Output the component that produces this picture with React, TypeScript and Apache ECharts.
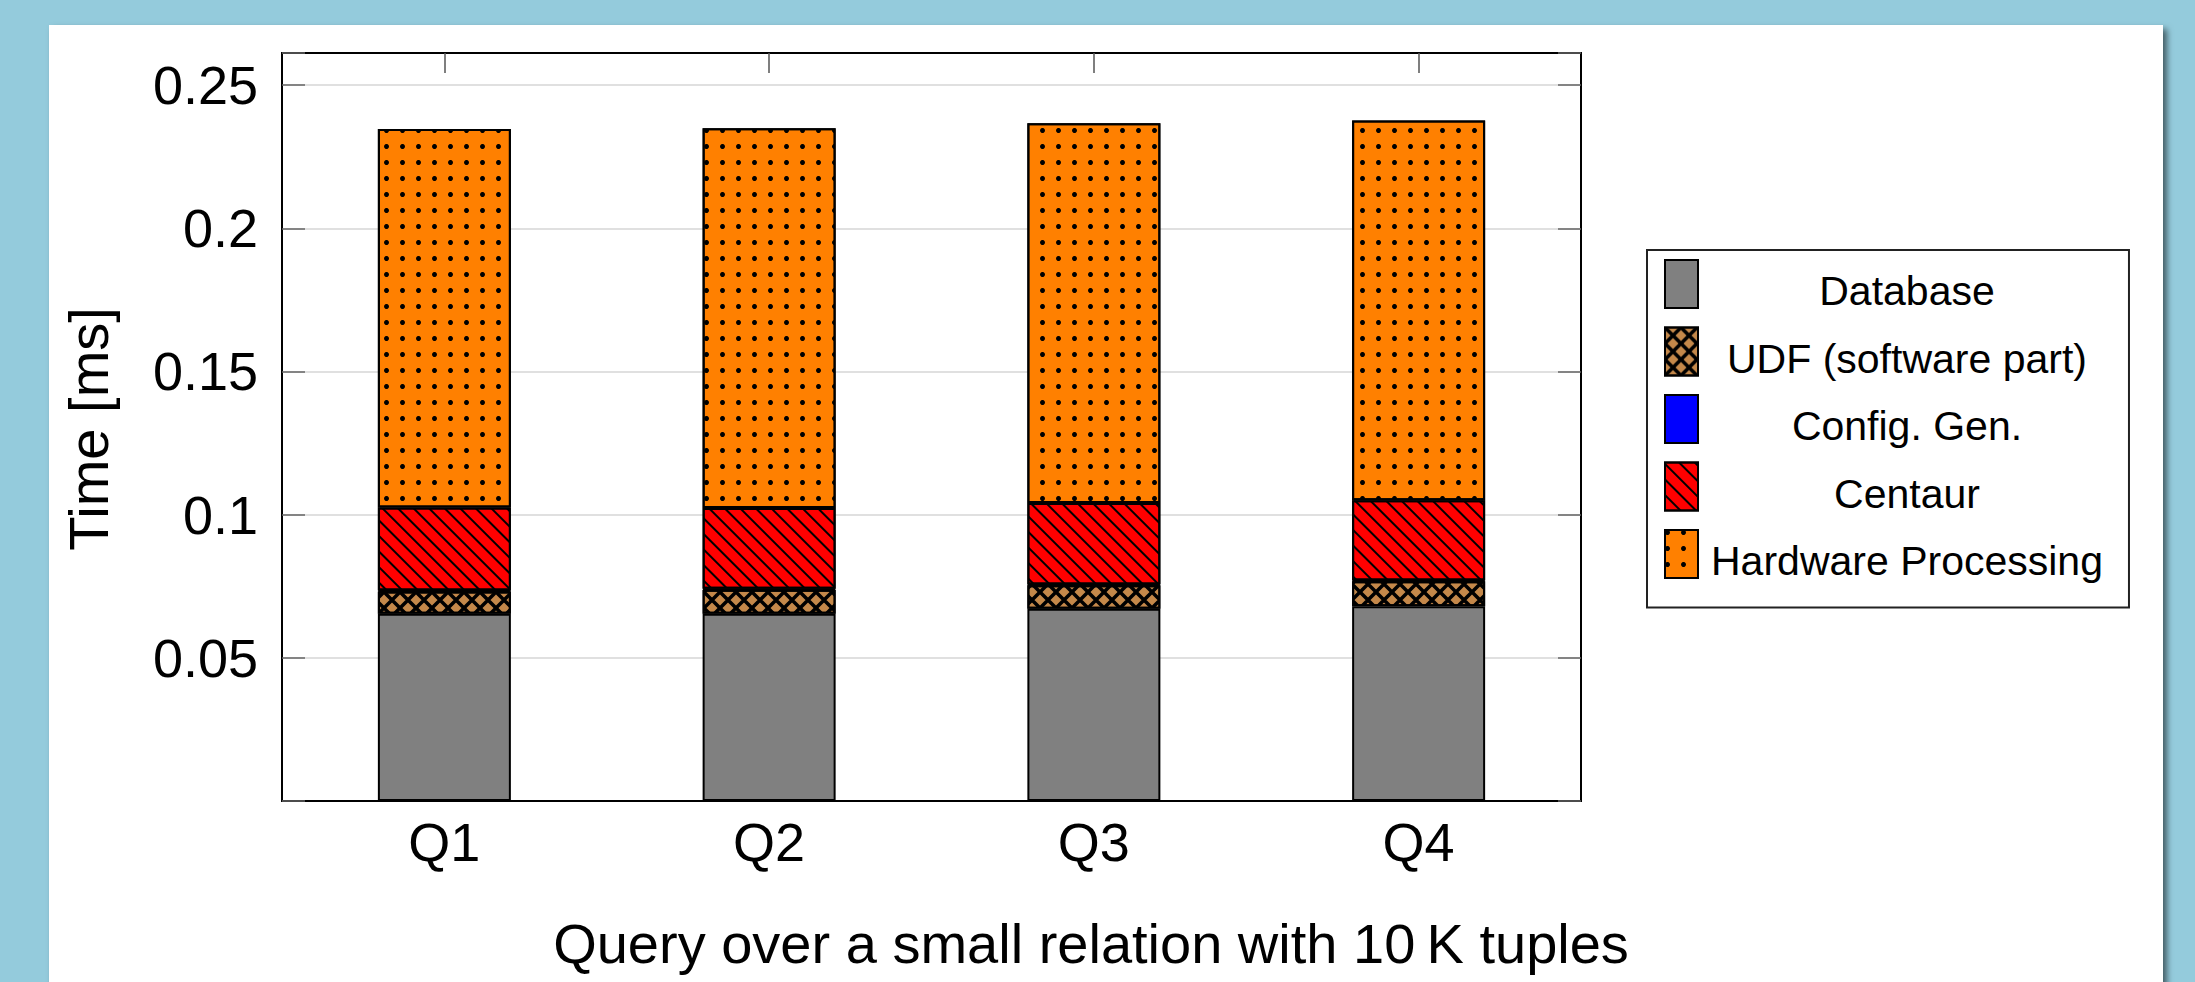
import React, { useEffect, useRef } from "react";
import * as echarts from "echarts";

const categories = ["Q1", "Q2", "Q3", "Q4"];
const seriesNames = ["Database", "UDF (software part)", "Config. Gen.", "Centaur", "Hardware Processing"];
const database = [0.0654, 0.0654, 0.0671, 0.068];
const udf = [0.0078, 0.0084, 0.0082, 0.0087];
const configGen = [0.0003, 0.0003, 0.0003, 0.0003];
const centaur = [0.029, 0.0282, 0.0285, 0.028];
const hardware = [0.1322, 0.1326, 0.1326, 0.1326];
const yTicks = [0.05, 0.1, 0.15, 0.2, 0.25];
const yMax = 0.2612;
const xTitle = "Query over a small relation with 10\u2009K tuples";
const yTitle = "Time [ms]";

const FONT = "Liberation Sans";

export default function App() {
  const ref = useRef<HTMLDivElement>(null);
  useEffect(() => {
    if (!ref.current) return;
    const chart = echarts.init(ref.current, undefined, { renderer: "svg" });

    const bar = (name: string, data: number[], color: string, decal?: any) => ({
      name,
      type: "bar",
      stack: "total",
      data,
      barWidth: 133,
      xAxisIndex: 0,
      yAxisIndex: 0,
      itemStyle: { color, borderColor: "#000", borderWidth: 2, decal },
      emphasis: { disabled: true },
    });

    const crossDecal = {
      symbol: "path://M0 0L5 0L32 27L32 32L27 32L0 5Z M32 0L32 5L5 32L0 32L0 27L27 0Z",
      symbolSize: 1,
      symbolKeepAspect: false,
      color: "#000",
      dashArrayX: [16, 0],
      dashArrayY: [16, 0],
      rotation: 0,
    };
    const lineDecal = {
      symbol: "rect",
      symbolSize: 1,
      color: "#000",
      dashArrayX: [1, 0],
      dashArrayY: [2, 9],
      rotation: Math.PI / 4,
    };
    const dotDecal = {
      symbol: "circle",
      symbolSize: 1,
      color: "#000",
      dashArrayX: [5, 11],
      dashArrayY: [5, 11],
      rotation: 0,
    };

    const yLabelFmt = (v: number) => {
      const t = yTicks.find((k) => Math.abs(k - v) < 1e-9);
      return t === undefined ? "" : String(t);
    };

    chart.setOption({
      animation: false,
      backgroundColor: "#94cbdc",
      grid: {
        left: 282,
        top: 53,
        width: 1299,
        height: 748,
        show: true,
        borderColor: "#000",
        borderWidth: 2,
        backgroundColor: "transparent",
        containLabel: false,
        outerBoundsMode: "none",
      },
      legend: {
        orient: "vertical",
        left: 1647,
        top: 250,
        data: seriesNames,
        icon: "rect",
        itemWidth: 33,
        itemHeight: 48,
        itemGap: 15,
        padding: [9, 26, 26, 17],
        backgroundColor: "#fff",
        borderColor: "#222",
        borderWidth: 2,
        selectedMode: false,
        itemStyle: { borderColor: "#000", borderWidth: 2 },
        formatter: (name: string) => `{c|${name}}`,
        textStyle: {
          rich: {
            c: {
              width: 408,
              align: "center",
              fontSize: 41,
              fontFamily: FONT,
              color: "#000",
              padding: [14, 0, 0, 0],
            },
          },
        },
      },
      xAxis: [
        {
          type: "category",
          data: categories,
          position: "bottom",
          boundaryGap: true,
          axisLine: { show: true, onZero: false, lineStyle: { color: "#000", width: 2 } },
          axisTick: { show: false },
          axisLabel: { fontSize: 54, fontFamily: FONT, color: "#000", margin: 14 },
          splitLine: { show: false },
        },
        {
          type: "category",
          data: categories,
          position: "top",
          boundaryGap: true,
          axisLine: { show: true, onZero: false, lineStyle: { color: "#000", width: 2 } },
          axisTick: { show: true, inside: true, alignWithLabel: true, length: 20, lineStyle: { color: "#555", width: 1.5 } },
          axisLabel: { show: false },
          splitLine: { show: false },
        },
      ],
      yAxis: [
        {
          type: "value",
          min: 0,
          max: yMax,
          interval: 0.05,
          position: "left",
          axisLine: { show: true, onZero: false, lineStyle: { color: "#000", width: 2 } },
          axisTick: { show: true, inside: true, length: 23, lineStyle: { color: "#666", width: 1.5 } },
          axisLabel: {
            fontSize: 54,
            fontFamily: FONT,
            color: "#000",
            margin: 24,
            formatter: yLabelFmt,
          },
          splitLine: { show: true, lineStyle: { color: "#d6d6d6", width: 1.5 } },
        },
        {
          type: "value",
          min: 0,
          max: yMax,
          interval: 0.05,
          position: "right",
          axisLine: { show: true, onZero: false, lineStyle: { color: "#000", width: 2 } },
          axisTick: { show: true, inside: true, length: 23, lineStyle: { color: "#666", width: 1.5 } },
          axisLabel: { show: false },
          splitLine: { show: false },
        },
      ],
      series: [
        bar(seriesNames[0], database, "#808080"),
        bar(seriesNames[1], udf, "#c4884a", crossDecal),
        bar(seriesNames[2], configGen, "#0000ff"),
        bar(seriesNames[3], centaur, "#ff0000", lineDecal),
        bar(seriesNames[4], hardware, "#ff8000", dotDecal),
      ],
      graphic: {
        elements: [
          {
            type: "rect",
            z: -10,
            silent: true,
            shape: { x: 49, y: 25, width: 2114, height: 980 },
            style: {
              fill: "#fff",
              shadowColor: "rgba(0,0,0,0.55)",
              shadowBlur: 6,
              shadowOffsetX: 4,
              shadowOffsetY: 4,
            },
          },
          {
            type: "text",
            z: 10,
            x: 1091,
            y: 943,
            style: {
              text: xTitle,
              fontSize: 56,
              fontFamily: FONT,
              fill: "#000",
              textAlign: "center",
              textVerticalAlign: "middle",
            },
          },
          {
            type: "text",
            z: 10,
            x: 88,
            y: 429,
            rotation: Math.PI / 2,
            style: {
              text: yTitle,
              fontSize: 56,
              fontFamily: FONT,
              fill: "#000",
              textAlign: "center",
              textVerticalAlign: "middle",
            },
          },
        ],
      },
    });

    return () => chart.dispose();
  }, []);

  return (
    <div
      ref={ref}
      style={{ position: "absolute", left: 0, top: 0, width: 2195, height: 982 }}
    />
  );
}
